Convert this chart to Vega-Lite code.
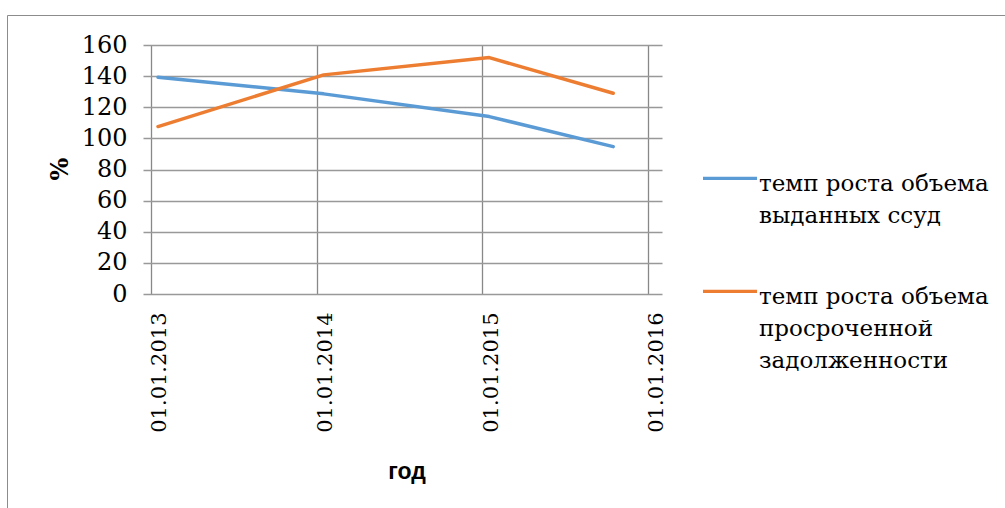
{
  "$schema": "https://vega.github.io/schema/vega-lite/v6.json",
  "width": 998,
  "height": 493,
  "autosize": {"type": "none"},
  "padding": {"left": 7, "top": 15, "right": 0, "bottom": 0},
  "background": "white",
  "config": {
    "font": "DejaVu Serif",
    "view": {"stroke": "#8c8c8c", "strokeWidth": 1},
    "style": {"guide-label": {"lineHeight": 32}}
  },
  "data": {
    "values": [
      {"date": "2013-01-01", "series": "темп роста объема выданных ссуд", "value": 139.3},
      {"date": "2014-01-01", "series": "темп роста объема выданных ссуд", "value": 128.6},
      {"date": "2015-01-01", "series": "темп роста объема выданных ссуд", "value": 114.0},
      {"date": "2015-10-01", "series": "темп роста объема выданных ссуд", "value": 94.7},
      {"date": "2013-01-01", "series": "темп роста объема просроченной задолженности", "value": 107.6},
      {"date": "2014-01-01", "series": "темп роста объема просроченной задолженности", "value": 140.8},
      {"date": "2015-01-01", "series": "темп роста объема просроченной задолженности", "value": 151.9},
      {"date": "2015-10-01", "series": "темп роста объема просроченной задолженности", "value": 129.0}
    ]
  },
  "mark": {"type": "line", "strokeWidth": 3.5, "strokeCap": "round", "strokeJoin": "round"},
  "encoding": {
    "x": {
      "field": "date",
      "type": "temporal",
      "timeUnit": "utcyearmonth",
      "bandPosition": 0.5,
      "scale": {
        "domain": [
          {"year": 2012, "month": 12, "date": 14, "hours": 10, "utc": true},
          {"year": 2016, "month": 2, "date": 1, "utc": true}
        ],
        "range": [136, 655],
        "nice": false
      },
      "axis": {
        "orient": "top",
        "offset": -279,
        "values": [
          {"year": 2013, "month": 1, "date": 1, "utc": true},
          {"year": 2014, "month": 1, "date": 1, "utc": true},
          {"year": 2015, "month": 1, "date": 1, "utc": true},
          {"year": 2016, "month": 1, "date": 1, "utc": true}
        ],
        "format": "%d.%m.%Y",
        "labelAngle": -90,
        "labelAlign": "right",
        "labelBaseline": "middle",
        "labelPadding": -18,
        "labelOffset": 9,
        "labelFont": "DejaVu Serif",
        "labelFontSize": 21,
        "labelColor": "black",
        "labelFlush": false,
        "labelOverlap": false,
        "ticks": false,
        "tickSize": 0,
        "domain": false,
        "grid": true,
        "gridColor": "#888888",
        "gridWidth": 1.3,
        "title": "год",
        "titleFont": "Liberation Sans",
        "titleFontSize": 23,
        "titleFontWeight": "bold",
        "titleColor": "black",
        "titleAngle": 0,
        "titleAlign": "center",
        "titleBaseline": "alphabetic",
        "titleX": 399.5,
        "titleY": 184.3
      }
    },
    "y": {
      "field": "value",
      "type": "quantitative",
      "scale": {"domain": [0, 160], "range": [279, 30], "nice": false},
      "axis": {
        "orient": "left",
        "offset": -136,
        "values": [0, 20, 40, 60, 80, 100, 120, 140, 160],
        "labelFont": "DejaVu Serif",
        "labelFontSize": 24,
        "labelColor": "black",
        "labelPadding": 16,
        "labelFlush": false,
        "labelOverlap": false,
        "ticks": false,
        "tickSize": 0,
        "domain": false,
        "grid": true,
        "gridColor": "#999999",
        "gridWidth": 1.3,
        "title": "%",
        "titleFont": "DejaVu Serif",
        "titleFontSize": 24,
        "titleFontWeight": "bold",
        "titleColor": "black",
        "titleAngle": -90,
        "titleAlign": "center",
        "titleBaseline": "alphabetic",
        "titleX": -76,
        "titleY": 153.5
      }
    },
    "color": {
      "field": "series",
      "type": "nominal",
      "scale": {
        "domain": ["темп роста объема выданных ссуд", "темп роста объема просроченной задолженности"],
        "range": ["#5B9BD5", "#ED7D31"]
      },
      "legend": {
        "orient": "none",
        "legendX": 694,
        "legendY": 147.4,
        "title": null,
        "padding": 0,
        "labelFont": "DejaVu Serif",
        "labelFontSize": 23,
        "labelColor": "black",
        "labelLimit": 400,
        "labelBaseline": "alphabetic",
        "labelOffset": 0,
        "symbolType": "M-1,-0.48L1,-0.48",
        "symbolSize": 2916,
        "symbolStrokeWidth": 3.3,
        "symbolOffset": 0,
        "rowPadding": 47,
        "labelExpr": "datum.label == 'темп роста объема выданных ссуд' ? ['темп роста объема', 'выданных ссуд'] : ['темп роста объема', 'просроченной', 'задолженности']"
      }
    }
  }
}
